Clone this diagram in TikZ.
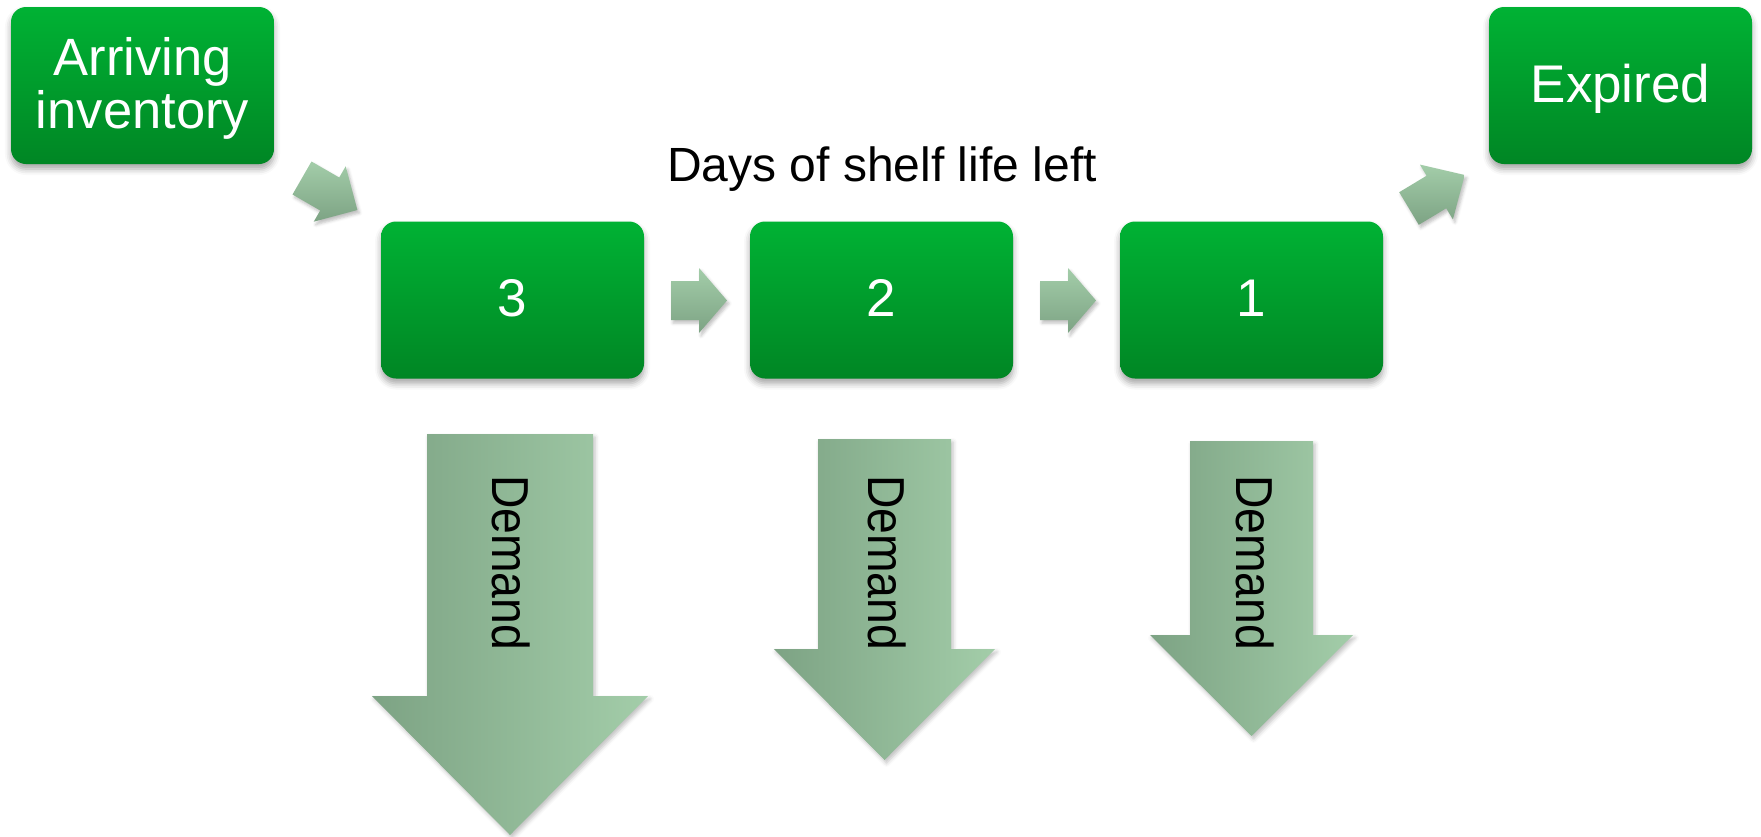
\documentclass[tikz,border=0pt]{standalone}
\usepackage{fontspec}
\setmainfont{Liberation Sans}
\usetikzlibrary{shadows.blur}
\definecolor{gtop}{RGB}{0,178,52}
\definecolor{gbot}{RGB}{0,134,36}
\definecolor{adark}{RGB}{125,163,132}
\definecolor{alight}{RGB}{163,205,169}
\begin{document}
\begin{tikzpicture}[x=1pt,y=-1pt,
  box/.style={rounded corners=15pt, top color=gtop, bottom color=gbot, draw=none,
    minimum width=263pt, minimum height=157pt, inner sep=0pt,
    text=white, font=\fontsize{53}{54}\selectfont, text height=33pt, text depth=0pt,
    blur shadow={shadow xshift=0pt, shadow yshift=-5pt, shadow blur radius=6pt, shadow opacity=35}},
  boxtext/.style={text=white, font=\fontsize{52.5}{53}\selectfont, inner sep=0pt},
  harrow/.style={top color=alight, bottom color=adark, draw=none,
    blur shadow={shadow xshift=2pt, shadow yshift=-3pt, shadow blur radius=3pt, shadow opacity=25}},
  darrow/.style={left color=adark, right color=alight, draw=none,
    blur shadow={shadow xshift=2pt, shadow yshift=-3pt, shadow blur radius=4pt, shadow opacity=25}},
  demandtext/.style={rotate=-90, anchor=west, inner sep=0pt, font=\fontsize{52}{53}\selectfont},
]
\useasboundingbox (0,0) rectangle (1761,836);

% boxes
\node[box] (arr) at (142.5,85.5) {};
\node[boxtext, anchor=base] (arrA) at (142.5,75) {Arriving};
\node[boxtext, anchor=base] (arrB) at (142.5,128) {inventory};
\node[box] (exp) at (1620.5,85.5) {Expired};
\node[box] (b3) at (512.5,300) {3};
\node[box] (b2) at (881.5,300) {2};
\node[box] (b1) at (1251.5,300) {1};

% title
\node[anchor=base, inner sep=0pt, font=\fontsize{48}{52}\selectfont] (title) at (882,181) {Days of shelf life left};

% diagonal arrows
\path[harrow] (292.5,194.5) -- (311.5,161.5) -- (339.2,177.5) -- (345.7,166.3)
  -- (357.4,210) -- (313.7,221.7) -- (320.2,210.5) -- cycle;
\path[harrow] (1399.2,192.2) -- (1418.8,224.8) -- (1446.2,208.3) -- (1452.9,219.4)
  -- (1464.7,175.0) -- (1419.9,164.6) -- (1426.6,175.7) -- cycle;

% small horizontal arrows
\path[harrow] (671,281) -- (699,281) -- (699,268) -- (727,300.5) -- (699,333) -- (699,320) -- (671,320) -- cycle;
\path[harrow] (1040,281) -- (1068,281) -- (1068,268) -- (1096,300.5) -- (1068,333) -- (1068,320) -- (1040,320) -- cycle;

% demand arrows
\path[darrow] (427,434) -- (593,434) -- (593,696) -- (648,696) -- (510,835) -- (372,696) -- (427,696) -- cycle;
\path[darrow] (818,439) -- (951,439) -- (951,649) -- (995,649) -- (884.5,760) -- (774,649) -- (818,649) -- cycle;
\path[darrow] (1190,441) -- (1313,441) -- (1313,635) -- (1353,635) -- (1251.5,736) -- (1150,635) -- (1190,635) -- cycle;

\node[demandtext] (d3) at (511,475) {\scalebox{0.89}[1]{Demand}};
\node[demandtext] (d2) at (887,475) {\scalebox{0.89}[1]{Demand}};
\node[demandtext] (d1) at (1255,475) {\scalebox{0.89}[1]{Demand}};
\end{tikzpicture}
\end{document}
